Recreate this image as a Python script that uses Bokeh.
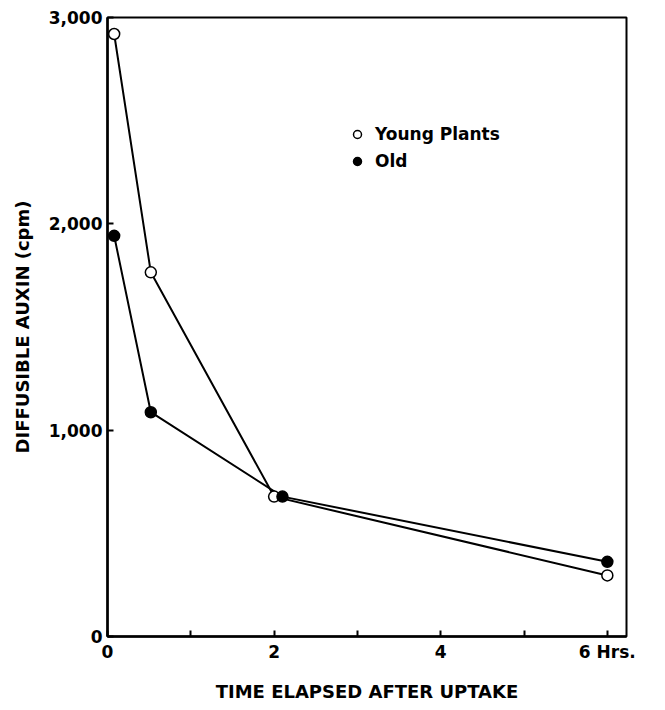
from bokeh.plotting import figure
from bokeh.models import (FixedTicker, NumeralTickFormatter, Range1d, Legend, LegendItem)
from bokeh.embed import file_html
from bokeh.resources import INLINE

# Data
young_x = [0.08, 0.52, 2.0, 6.0]
young_y = [2920, 1765, 678, 296]
old_x = [0.08, 0.52, 2.1, 6.0]
old_y = [1942, 1087, 678, 362]
x_ticks = [0, 1, 2, 3, 4, 5, 6]
x_tick_labels = {0: "0", 1: "", 2: "2", 3: "", 4: "4", 5: "", 6: "6 Hrs."}
y_ticks = [0, 1000, 2000, 3000]
series_names = ["Young Plants", "Old"]
x_label = "TIME ELAPSED AFTER UPTAKE"
y_label = "DIFFUSIBLE AUXIN (cpm)"

FONT = "DejaVu Sans"

p = figure(width=658, height=704, output_backend="svg", toolbar_location=None,
           x_range=Range1d(0, 6.23), y_range=Range1d(0, 3000))
p.min_border_left = 107
p.min_border_right = 32
p.min_border_top = 17
p.min_border_bottom = 62
p.background_fill_color = "white"
p.border_fill_color = "white"
p.outline_line_color = "black"
p.outline_line_width = 2
p.grid.visible = False

for ax in (p.xaxis[0], p.yaxis[0]):
    ax.axis_line_width = 2.5
    ax.axis_line_color = "black"
    ax.major_tick_in = 6
    ax.major_tick_out = 0
    ax.major_tick_line_width = 2
    ax.minor_tick_line_color = None
    ax.major_label_text_font = FONT
    ax.major_label_text_font_size = "17px"
    ax.major_label_text_font_style = "bold"
    ax.major_label_text_color = "black"
    ax.axis_label_text_font = FONT
    ax.axis_label_text_font_size = "18px"
    ax.axis_label_text_font_style = "bold"
    ax.axis_label_text_color = "black"

p.xaxis.ticker = FixedTicker(ticks=x_ticks)
p.xaxis.major_label_overrides = x_tick_labels
p.xaxis.major_label_standoff = 5
p.xaxis.axis_label = x_label
p.xaxis.axis_label_standoff = 16

p.yaxis.ticker = FixedTicker(ticks=y_ticks)
p.yaxis.formatter = NumeralTickFormatter(format="0,0")
p.yaxis.major_label_standoff = 5
p.yaxis.axis_label = y_label
p.yaxis.axis_label_standoff = 13

p.line(young_x, young_y, line_color="black", line_width=2)
p.line(old_x, old_y, line_color="black", line_width=2)
r_young = p.scatter(young_x, young_y, marker="circle", size=11, fill_color="white",
                    line_color="black", line_width=1.5)
r_old = p.scatter(old_x, old_y, marker="circle", size=11, fill_color="black",
                  line_color="black", line_width=1.5)

legend = Legend(items=[LegendItem(label=series_names[0], renderers=[r_young]),
                       LegendItem(label=series_names[1], renderers=[r_old])],
                location=(240, 465))
legend.border_line_color = None
legend.background_fill_alpha = 0
legend.padding = 0
legend.margin = 0
legend.spacing = 7
legend.glyph_width = 20
legend.glyph_height = 20
legend.label_standoff = 8
legend.label_text_font = FONT
legend.label_text_font_size = "17px"
legend.label_text_font_style = "bold"
legend.label_text_color = "black"
p.add_layout(legend, "center")

open("out.html", "w").write(file_html(p, INLINE))
